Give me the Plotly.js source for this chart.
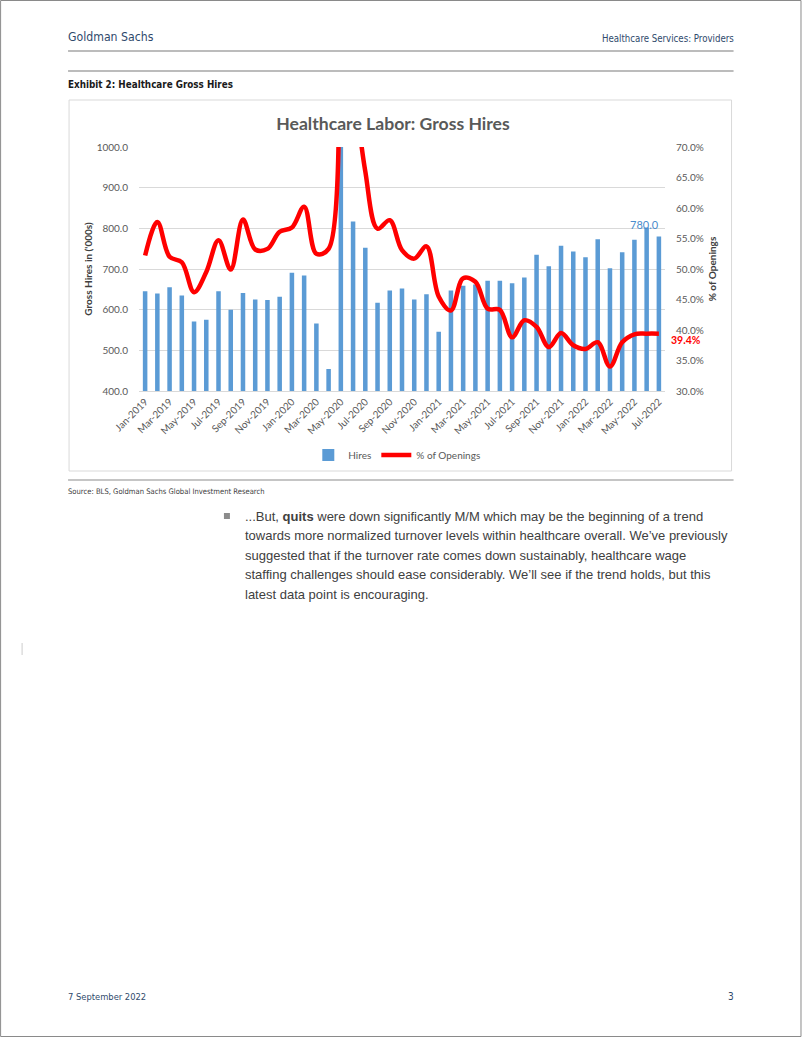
<!DOCTYPE html>
<html>
<head>
<meta charset="utf-8">
<script src="https://cdn.plot.ly/plotly-3.0.1.min.js"></script>
<style>
html,body{margin:0;padding:0;background:#fff;overflow:hidden}
#chart{width:802px;height:1037px}
</style>
</head>
<body>
<div id="chart"></div>
<script>
// ---------------- data ----------------
const months = ['Jan-2019','Feb-2019','Mar-2019','Apr-2019','May-2019','Jun-2019','Jul-2019','Aug-2019','Sep-2019','Oct-2019','Nov-2019','Dec-2019',
  'Jan-2020','Feb-2020','Mar-2020','Apr-2020','May-2020','Jun-2020','Jul-2020','Aug-2020','Sep-2020','Oct-2020','Nov-2020','Dec-2020',
  'Jan-2021','Feb-2021','Mar-2021','Apr-2021','May-2021','Jun-2021','Jul-2021','Aug-2021','Sep-2021','Oct-2021','Nov-2021','Dec-2021',
  'Jan-2022','Feb-2022','Mar-2022','Apr-2022','May-2022','Jun-2022','Jul-2022'];
const hires = [645,640,655,635,571,575,645,600,641,625,624,632,
  691,684,566,454,1040,817,752,617,647,652,625,638,
  546,647,659,662,671,671,665,679,735,707,757,743,
  729,773,702,741,772,802,780];
const pctOpenings = [52.2,57.7,52.0,51.1,46.2,49.5,54.7,49.9,58.1,53.2,53.3,56.1,
  56.8,60.2,52.5,53.3,105,82,66,56.6,58.0,53.1,51.7,53.7,
  45.5,43.2,48.5,47.9,43.5,43.3,38.8,41.6,40.5,37.2,39.5,37.5,
  36.9,38.0,34.0,38.0,39.3,39.4,39.4];
const xTickLabels = ['Jan-2019','Mar-2019','May-2019','Jul-2019','Sep-2019','Nov-2019','Jan-2020','Mar-2020','May-2020','Jul-2020','Sep-2020','Nov-2020',
  'Jan-2021','Mar-2021','May-2021','Jul-2021','Sep-2021','Nov-2021','Jan-2022','Mar-2022','May-2022','Jul-2022'];
const hiresLabel = '780.0';
const pctLabel = '39.4%';
const paragraphLines = [
  '...But, <b>quits</b> were down significantly M/M which may be the beginning of a trend',
  'towards more normalized turnover levels within healthcare overall. We\u2019ve previously',
  'suggested that if the turnover rate comes down sustainably, healthcare wage',
  'staffing challenges should ease considerably. We\u2019ll see if the trend holds, but this',
  'latest data point is encouraging.'
];

// ---------------- layout helpers ----------------
const L = 139, R = 665.4, T = 147, B = 391;
const W = R - L, H = B - T;
const X = px => (px - L) / W;
const Y = py => (B - py) / H;

const NARROW = '"Liberation Sans Narrow", "DejaVu Sans Condensed", "Arial Narrow", sans-serif';
const BODY = '"Liberation Sans", Arial, sans-serif';
const CHART = 'Lato, "Open Sans", sans-serif';
const NAVY = '#2f4a6c';

function pageText(text, px, py, size, color, family, anchor) {
  return {text: text, xref: 'paper', yref: 'paper', x: X(px), y: Y(py),
    xanchor: anchor || 'left', yanchor: 'middle', showarrow: false,
    font: {family: family, size: size, color: color}};
}
function hline(x0, x1, y, color, width) {
  return {type: 'line', xref: 'paper', yref: 'paper', x0: X(x0), x1: X(x1), y0: Y(y), y1: Y(y),
    line: {color: color, width: width}};
}

const annotations = [
  pageText('Goldman Sachs', 66, 37, 12.2, NAVY, NARROW),
  pageText('Healthcare Services: Providers', 736, 38, 9.6, NAVY, NARROW, 'right'),
  pageText('<b>Exhibit 2: Healthcare Gross Hires</b>', 66, 84, 9.8, '#1a1a1a', NARROW),
  pageText('Source: BLS, Goldman Sachs Global Investment Research', 66, 491, 7.6, '#404040', NARROW),
  pageText('7 September 2022', 66, 996, 9.3, NAVY, NARROW),
  pageText('3', 736, 996, 10, NAVY, NARROW, 'right'),
  // data labels
  {text: hiresLabel, xref: 'x', yref: 'y', x: months[months.length-1], y: hires[hires.length-1],
   xshift: -14, yshift: 12, showarrow: false, font: {family: CHART, size: 11, color: '#4a8ccc'}},
  {text: '<b>' + pctLabel + '</b>', xref: 'x', yref: 'y2', x: months[months.length-1], y: pctOpenings[pctOpenings.length-1],
   xshift: 27, yshift: -6, showarrow: false, font: {family: CHART, size: 10.5, color: '#ff0000'}}
];
paragraphLines.forEach((line, i) => {
  annotations.push(pageText(line, 243, 516 + i * 19.5, 13, '#404040', BODY));
});

const shapes = [
  {type: 'rect', xref: 'paper', yref: 'paper', x0: X(0.5), x1: X(801.5), y0: Y(0.5), y1: Y(1036.5),
   line: {color: '#8a8a8a', width: 1}, fillcolor: 'rgba(0,0,0,0)'},
  hline(68, 734, 51, '#a6a6a6', 1.5),
  hline(68, 734, 71, '#a6a6a6', 1.5),
  hline(68, 734, 480, '#8c8c8c', 1.2),
  {type: 'rect', xref: 'paper', yref: 'paper', x0: X(69), x1: X(732), y0: Y(100), y1: Y(471),
   line: {color: '#d9d9d9', width: 1}, fillcolor: 'rgba(0,0,0,0)', layer: 'below'},
  {type: 'rect', xref: 'paper', yref: 'paper', x0: X(224), x1: X(230), y0: Y(513), y1: Y(519),
   line: {width: 0}, fillcolor: '#8c8c8c'},
  {type: 'line', xref: 'paper', yref: 'paper', x0: X(22), x1: X(22), y0: Y(643), y1: Y(655),
   line: {color: '#cccccc', width: 1}}
];

const traces = [
  {type: 'bar', name: 'Hires', x: months, y: hires, yaxis: 'y',
   marker: {color: '#5b9bd5'}, hoverinfo: 'x+y'},
  {type: 'scatter', mode: 'lines', name: '% of Openings', x: months, y: pctOpenings, yaxis: 'y2',
   line: {color: '#ff0000', width: 4.5, shape: 'spline', smoothing: 1}}
];

const layout = {
  width: 802, height: 1037,
  margin: {l: L, r: 802 - R, t: T, b: 1037 - B, pad: 0},
  paper_bgcolor: '#ffffff', plot_bgcolor: '#ffffff',
  bargap: 0.63,
  showlegend: true,
  title: {text: '<b>Healthcare Labor: Gross Hires</b>', xref: 'container', yref: 'container',
    x: 393 / 802, y: 1 - 124 / 1037, xanchor: 'center', yanchor: 'middle',
    font: {family: CHART, size: 17.6, color: '#595959'}},
  xaxis: {type: 'category', range: [-0.5, months.length - 0.5], automargin: false,
    tickmode: 'array', tickvals: xTickLabels, ticktext: xTickLabels, tickangle: -45,
    tickfont: {family: CHART, size: 10, color: '#595959'},
    showgrid: false, showline: true, linecolor: '#d9d9d9', linewidth: 1, ticks: '', fixedrange: true},
  yaxis: {range: [400, 1000], dtick: 100, tickformat: '.1f', automargin: false,
    tickfont: {family: CHART, size: 10, color: '#595959'},
    showgrid: true, gridcolor: '#d9d9d9', gridwidth: 1, zeroline: false, ticks: '',
    ticklabelstandoff: 10,
    title: {text: "<b>Gross Hires in ('000s)</b>", standoff: 2,
      font: {family: CHART, size: 10, color: '#404040'}}},
  yaxis2: {range: [30, 70], dtick: 5, tickformat: '.1f', ticksuffix: '%', automargin: false,
    overlaying: 'y', side: 'right', showgrid: false, zeroline: false, ticks: '',
    ticklabelstandoff: 10,
    tickfont: {family: CHART, size: 10, color: '#595959'},
    title: {text: '<b>% of Openings</b>', standoff: 6,
      font: {family: CHART, size: 10, color: '#404040'}}},
  legend: {orientation: 'h', x: X(397), xanchor: 'center', y: Y(455), yanchor: 'middle',
    font: {family: CHART, size: 10, color: '#595959'}, bgcolor: 'rgba(0,0,0,0)', traceorder: 'normal',
    itemwidth: 30},
  annotations: annotations,
  shapes: shapes
};

Plotly.newPlot('chart', traces, layout, {displayModeBar: false, staticPlot: true});
</script>
</body>
</html>
